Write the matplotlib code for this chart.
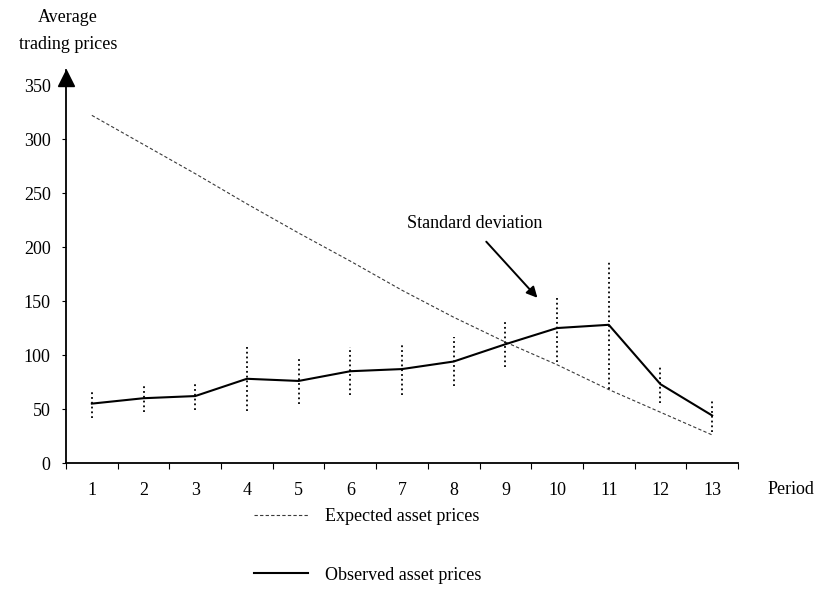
import matplotlib.pyplot as plt
import numpy as np

plt.rcParams['font.family'] = ['Liberation Serif', 'DejaVu Serif']

periods = np.arange(1, 14)
expected = [322, 295, 268, 240, 213, 187, 160, 135, 112, 91, 68, 47, 26]
observed = [55, 60, 62, 78, 76, 85, 87, 94, 110, 125, 128, 73, 44]
std_dev = [13, 13, 13, 30, 21, 22, 24, 23, 21, 31, 59, 17, 15]
y_ticks = [0, 50, 100, 150, 200, 250, 300, 350]

fig = plt.figure(figsize=(8.27, 5.94), dpi=100)
ax = fig.add_axes([66 / 827, 131 / 594, 672 / 827, 393 / 594])

obs = np.array(observed)
sd = np.array(std_dev)

exp_line, = ax.plot(periods, expected, color='#3a3a3a', lw=0.8, dashes=(3, 2))
obs_line, = ax.plot(periods, observed, color='black', lw=1.5)
ax.vlines(periods, obs - sd, obs + sd, colors='black', linestyles=':', lw=1.3)

ax.set_xlim(0.5, 13.5)
ax.set_ylim(0, 364)

# axes: only left and bottom, arrow head on the y axis
for s in ['top', 'right']:
    ax.spines[s].set_visible(False)
ax.spines['left'].set_linewidth(1.3)
ax.spines['bottom'].set_linewidth(1.3)
ax.plot(0.5, 357, marker='^', color='black', markersize=11, clip_on=False)

ax.set_yticks(y_ticks)
ax.tick_params(axis='y', direction='out', length=3, pad=8, labelsize=13)

# ticks sit between periods, labels sit on the periods
ax.set_xticks(np.arange(0.5, 14, 1))
ax.set_xticklabels([])
ax.set_xticks(periods, minor=True)
ax.set_xticklabels([str(p) for p in periods], minor=True)
ax.tick_params(axis='x', which='major', direction='out', length=4)
ax.tick_params(axis='x', which='minor', length=0, pad=14, labelsize=13)

fig.text(68 / 827, 1 - 31 / 594, 'Average\ntrading prices', ha='center', va='center',
         fontsize=13, linespacing=1.75)
fig.text(768 / 827, 1 - 490 / 594, 'Period', ha='left', va='center', fontsize=13)

ax.text(8.4, 222, 'Standard deviation', ha='center', va='center', fontsize=13)
ax.annotate('', xy=(9.62, 153), xytext=(8.63, 205),
            arrowprops=dict(arrowstyle='-|>', color='black', lw=1.4,
                            shrinkA=0, shrinkB=0, mutation_scale=16))

ax.legend([exp_line, obs_line], ['Expected asset prices', 'Observed asset prices'],
          loc='upper left', bbox_to_anchor=(238 / 827, 1 - 492 / 594),
          bbox_transform=fig.transFigure, frameon=False, fontsize=13,
          handlelength=3.0, handletextpad=0.9, labelspacing=2.3)

fig.savefig('out.png', dpi=100)
